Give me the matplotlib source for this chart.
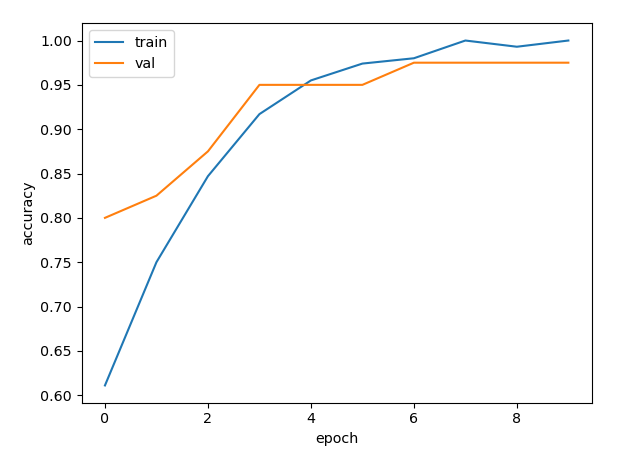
import matplotlib.pyplot as plt

# datos
epochs = list(range(10))
train_acc = [0.611, 0.750, 0.847, 0.917, 0.955, 0.974, 0.980, 1.000, 0.993, 1.000]
val_acc = [0.800, 0.825, 0.875, 0.950, 0.950, 0.950, 0.975, 0.975, 0.975, 0.975]

plt.rcParams['font.size'] = 10.3
fig = plt.figure(figsize=(6.34, 4.61), dpi=100)
ax = fig.add_axes([0.129, 0.1265, 0.804, 0.823])

ax.plot(epochs, train_acc, label='train')
ax.plot(epochs, val_acc, label='val')

ax.set_xlabel('epoch')
ax.set_ylabel('accuracy')
ax.legend(loc='upper left')

fig.savefig('out.png', dpi=100)
